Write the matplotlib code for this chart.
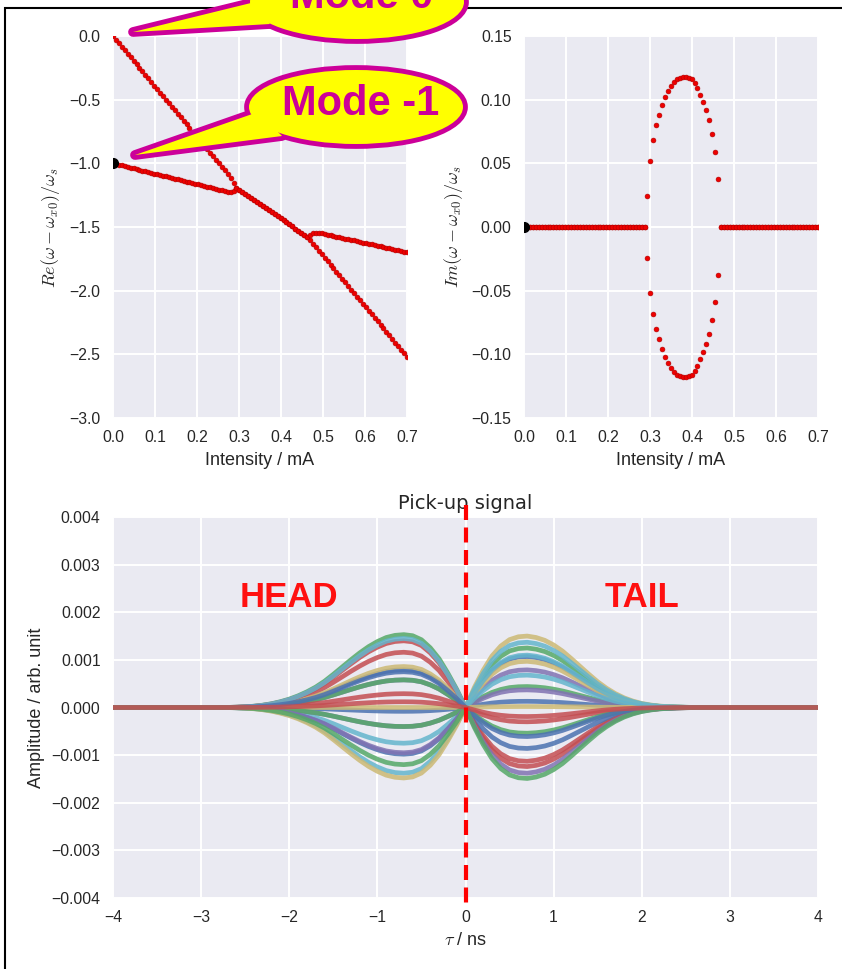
import numpy as np
import matplotlib
matplotlib.use("Agg")
import matplotlib.pyplot as plt
from matplotlib.patches import Ellipse, Polygon, Rectangle
from matplotlib.ticker import FuncFormatter

# ---------------- data ----------------
intensity_mA = np.linspace(0.0, 0.7, 101)

re_mode0 = [0.000, -0.028, -0.056, -0.083, -0.111, -0.139, -0.167, -0.195, -0.222, -0.250,
            -0.278, -0.306, -0.333, -0.361, -0.389, -0.417, -0.445, -0.472, -0.500, -0.528,
            -0.556, -0.584, -0.611, -0.639, -0.667, -0.695, -0.723, -0.750, -0.778, -0.806,
            -0.834, -0.861, -0.889, -0.917, -0.945, -0.973, -1.000, -1.028, -1.056, -1.084,
            -1.118, -1.155, -1.190, -1.206, -1.222, -1.238, -1.254, -1.271, -1.287, -1.303,
            -1.319, -1.335, -1.351, -1.367, -1.383, -1.399, -1.415, -1.432, -1.448, -1.464,
            -1.480, -1.496, -1.512, -1.528, -1.544, -1.560, -1.576, -1.602, -1.630, -1.658,
            -1.685, -1.713, -1.741, -1.769, -1.796, -1.824, -1.852, -1.880, -1.908, -1.935,
            -1.963, -1.991, -2.019, -2.047, -2.074, -2.102, -2.130, -2.158, -2.186, -2.213,
            -2.241, -2.269, -2.297, -2.324, -2.352, -2.380, -2.408, -2.436, -2.463, -2.491,
            -2.519]

re_mode_m1 = [-1.000, -1.006, -1.011, -1.017, -1.023, -1.029, -1.034, -1.040, -1.046, -1.052,
              -1.057, -1.063, -1.069, -1.075, -1.080, -1.086, -1.092, -1.098, -1.103, -1.109,
              -1.115, -1.121, -1.126, -1.132, -1.138, -1.144, -1.149, -1.155, -1.161, -1.166,
              -1.172, -1.178, -1.184, -1.189, -1.195, -1.201, -1.207, -1.212, -1.218, -1.224,
              -1.228, -1.218, -1.190, -1.206, -1.222, -1.238, -1.254, -1.271, -1.287, -1.303,
              -1.319, -1.335, -1.351, -1.367, -1.383, -1.399, -1.415, -1.432, -1.448, -1.464,
              -1.480, -1.496, -1.512, -1.528, -1.544, -1.560, -1.576, -1.560, -1.550, -1.545,
              -1.545, -1.550, -1.555, -1.560, -1.565, -1.571, -1.576, -1.581, -1.586, -1.591,
              -1.596, -1.601, -1.606, -1.611, -1.617, -1.622, -1.627, -1.632, -1.637, -1.642,
              -1.647, -1.652, -1.657, -1.662, -1.668, -1.673, -1.678, -1.683, -1.688, -1.693,
              -1.698]

im_coupled = [0.024, 0.052, 0.068, 0.080, 0.088, 0.096, 0.102, 0.107, 0.111, 0.114,
              0.116, 0.117, 0.118, 0.118, 0.117, 0.116, 0.113, 0.109, 0.104, 0.098,
              0.092, 0.084, 0.073, 0.059, 0.038]
im_pos = [0.0] * 42 + im_coupled + [0.0] * 34
im_neg = [0.0] * 42 + [-v for v in im_coupled] + [0.0] * 34

tau_ns = np.round(np.linspace(-4.0, 4.0, 81), 2)
# normalised lobe shapes vs |tau| (0 ... 4 ns, step 0.1)
head_profile = [0.0, 0.25, 0.47, 0.67, 0.82, 0.93, 0.985, 1.0, 0.99, 0.96,
                0.905, 0.835, 0.75, 0.655, 0.555, 0.455, 0.36, 0.28, 0.215, 0.16,
                0.115, 0.08, 0.052, 0.032, 0.018, 0.009, 0.004, 0.001, 0.0, 0.0,
                0.0, 0.0, 0.0, 0.0, 0.0, 0.0, 0.0, 0.0, 0.0, 0.0, 0.0]
tail_profile = [0.0, 0.28, 0.52, 0.72, 0.86, 0.95, 0.99, 1.0, 0.98, 0.94,
                0.875, 0.79, 0.685, 0.575, 0.465, 0.36, 0.27, 0.195, 0.135, 0.09,
                0.057, 0.035, 0.02, 0.012, 0.006, 0.003, 0.001, 0.0, 0.0, 0.0,
                0.0, 0.0, 0.0, 0.0, 0.0, 0.0, 0.0, 0.0, 0.0, 0.0, 0.0]
# lobe amplitudes of each pick-up trace (head at -0.7 ns, tail at +0.7 ns)
head_amp = [0.00079, 0.00153, 0.00116, 0.00058, 0.00086, -0.00075, -0.00008,
            0.00058, 0.00029, -0.00040, 0.00000, -0.00138, -0.00098, -0.00040,
            0.00140, -0.00095, -0.00148, 0.00145, 0.00075, -0.00120, 0.00012]
tail_amp = [0.00107, 0.00125, -0.00113, 0.00079, 0.00150, 0.00137, 0.00013,
            0.00044, -0.00030, 0.00037, 0.00097, 0.00068, -0.00086, -0.00054,
            -0.00124, -0.00138, 0.00002, 0.00110, -0.00061, -0.00149, -0.00019]

# ---------------- style ----------------
W, H = 842, 969
plt.rcParams.update({
    "font.family": ["Liberation Sans", "DejaVu Sans"],
    "mathtext.fontset": "cm",
    "axes.facecolor": "#EAEAF2",
    "axes.edgecolor": "white",
    "axes.grid": True,
    "grid.color": "white",
    "grid.linewidth": 1.4,
    "axes.axisbelow": True,
    "xtick.major.size": 0,
    "ytick.major.size": 0,
    "xtick.major.pad": 9,
    "ytick.major.pad": 9,
    "xtick.color": ".15",
    "ytick.color": ".15",
    "axes.labelcolor": ".15",
    "xtick.labelsize": 11.3,
    "ytick.labelsize": 11.3,
    "axes.labelsize": 13,
    "axes.labelpad": 5,
    "axes.prop_cycle": matplotlib.cycler(color=["#4C72B0", "#55A868", "#C44E52",
                                                 "#8172B2", "#CCB974", "#64B5CD"]),
})

fig = plt.figure(figsize=(W / 100, H / 100), dpi=100)


def fr(x0, y0, x1, y1):
    return [x0 / W, 1 - y1 / H, (x1 - x0) / W, (y1 - y0) / H]


def fmt(nd):
    def f(v, pos):
        if abs(v) < 1e-12:
            v = 0.0
        return f"{v:.{nd}f}".replace("-", "\u2212")
    return FuncFormatter(f)


ax1 = fig.add_axes(fr(113, 36, 407, 418))
ax2 = fig.add_axes(fr(524, 36, 818, 418))
ax3 = fig.add_axes(fr(113, 517, 818, 898))
for ax in (ax1, ax2, ax3):
    for s in ax.spines.values():
        s.set_visible(False)

dot = dict(linestyle="none", marker="o", ms=3.5, color="#ee0000", mec="#b00000", mew=0.4)

ax1.plot(intensity_mA, re_mode0, **dot)
ax1.plot(intensity_mA, re_mode_m1, **dot)
ax1.plot([intensity_mA[0]], [re_mode_m1[0]], "o", color="black", ms=7)
ax1.set_xlim(0, 0.7)
ax1.set_ylim(-3.0, 0.0)
ax1.set_xticks(np.arange(0, 0.71, 0.1))
ax1.set_yticks(np.arange(-3.0, 0.01, 0.5))
ax1.xaxis.set_major_formatter(fmt(1))
ax1.yaxis.set_major_formatter(fmt(1))
ax1.set_xlabel("Intensity / mA")
ax1.set_ylabel(r"$Re(\omega-\omega_{x0})/\omega_s$")

ax2.plot(intensity_mA, im_pos, **dot)
ax2.plot(intensity_mA, im_neg, **dot)
ax2.plot([intensity_mA[0]], [im_pos[0]], "o", color="black", ms=7)
ax2.set_xlim(0, 0.7)
ax2.set_ylim(-0.15, 0.15)
ax2.set_xticks(np.arange(0, 0.71, 0.1))
ax2.set_yticks(np.arange(-0.15, 0.151, 0.05))
ax2.xaxis.set_major_formatter(fmt(1))
ax2.yaxis.set_major_formatter(fmt(2))
ax2.set_xlabel("Intensity / mA")
ax2.set_ylabel(r"$Im(\omega-\omega_{x0})/\omega_s$")

hp = np.array(head_profile)
tp = np.array(tail_profile)
neg = tau_ns < 0
for a_h, a_t in zip(head_amp, tail_amp):
    y = np.zeros_like(tau_ns)
    y[neg] = a_h * hp[np.round(-tau_ns[neg] * 10).astype(int)]
    y[~neg] = a_t * tp[np.round(tau_ns[~neg] * 10).astype(int)]
    ax3.plot(tau_ns, y, lw=3.4, alpha=0.85, solid_joinstyle="round")
ax3.set_xlim(-4, 4)
ax3.set_ylim(-0.004, 0.004)
ax3.set_xticks(np.arange(-4, 5, 1))
ax3.set_yticks(np.arange(-0.004, 0.0041, 0.001))
ax3.yaxis.set_major_formatter(fmt(3))
ax3.xaxis.set_major_formatter(fmt(0))
ax3.set_xlabel(r"$\tau$ / ns")
ax3.set_ylabel("Amplitude / arb. unit")
ax3.set_title("Pick-up signal", family="DejaVu Sans", fontsize=14, color=".15", pad=6)
ax3.plot([0, 0], [1.031, -0.018], transform=ax3.get_xaxis_transform(), clip_on=False,
         color="#ff0000", lw=3.0, dashes=(3.6, 1.8), zorder=5)
ax3.text(-2.0, 0.00232, "HEAD", color="#ff1010", fontsize=25, fontweight="bold",
         ha="center", va="center")
ax3.text(2.0, 0.00232, "TAIL", color="#ff1010", fontsize=25, fontweight="bold",
         ha="center", va="center")

# figure frame
fig.add_artist(Rectangle((5 / W, -0.05), 1.2, 1 - 8 / H + 0.05, transform=fig.transFigure,
                         fill=False, edgecolor="black", lw=1.5, zorder=1))

# callouts
MAG = "#CC0099"
YEL = "#FFFF00"


def P(x, y):
    return (x / W, 1 - y / H)


def callout(cx, cy, w, h, tail, text, tx, ty):
    tail_pts = [P(*p) for p in tail]
    for fill_pass in (False, True):
        z = 20 if not fill_pass else 21
        kw = dict(transform=fig.transFigure, zorder=z)
        if fill_pass:
            kw.update(facecolor=YEL, edgecolor="none")
        else:
            kw.update(facecolor=MAG, edgecolor=MAG, lw=7, joinstyle="round")
        fig.add_artist(Ellipse(P(cx, cy), w / W, h / H, **kw))
        fig.add_artist(Polygon(tail_pts, closed=True, **kw))
    fig.text(tx / W, 1 - ty / H, text, color=MAG, fontsize=30, fontweight="bold",
             ha="center", va="center", zorder=22)


callout(356, 107, 214, 74, [(135, 155), (258, 112), (282, 136)], "Mode -1", 361, 104)
callout(357, 2, 214, 74, [(133, 32), (255, 2), (270, 24)], "Mode 0", 362, -3)

fig.savefig("out.png", dpi=100)
